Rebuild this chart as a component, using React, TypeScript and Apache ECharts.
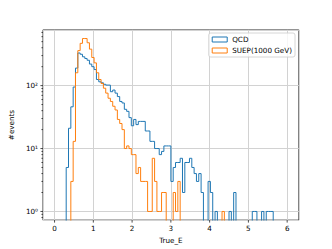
import React, { useEffect, useRef } from 'react';
import * as echarts from 'echarts';

// Histogram binning (100 bins from 0 to 6)
const BIN_START = 0;
const BIN_WIDTH = 0.06;

// Counts per bin
const qcdCounts: number[] = [
  0, 0, 0, 0, 0, 5, 21, 46, 95, 190,
  330, 315, 287, 270, 253, 220, 200, 180, 125, 115,
  111, 105, 102, 102, 80, 85, 76, 67, 56, 53,
  42, 39, 31, 23, 29, 24, 27, 27, 27, 19,
  19, 13, 13, 10, 10, 8, 9, 11, 11, 11,
  3, 5, 6, 6, 7, 2, 6, 6, 7, 5,
  4, 3, 4, 2, 0, 0, 3, 2, 0, 1,
  0, 0, 0, 0, 0, 1, 0, 2, 0, 0,
  0, 0, 0, 0, 0, 1, 1, 0, 0, 1,
  0, 1, 1, 1, 0, 0, 0, 0, 0, 0,
];

const suepCounts: number[] = [
  0, 0, 0, 0, 0, 0, 0, 3, 13, 160,
  360, 470, 560, 560, 480, 380, 280, 230, 160, 125,
  108, 91, 76, 63, 56, 47, 41, 29, 25, 20,
  10, 11, 10, 8, 8, 4, 5, 3, 3, 3,
  1, 1, 7, 3, 1, 1, 2, 2, 0, 0,
  0, 2, 1, 3, 0, 0, 0, 0, 0, 0,
  0, 0, 0, 0, 0, 0, 0, 0, 0, 0,
  0, 0, 1, 0, 0, 0, 0, 0, 0, 0,
  0, 0, 0, 0, 0, 0, 0, 0, 0, 0,
  0, 0, 0, 0, 0, 0, 0, 0, 0, 0,
];

const seriesNames = ['QCD', 'SUEP(1000 GeV)'];
const seriesColors = ['#1f77b4', '#ff7f0e'];

const xTickValues = [0, 1, 2, 3, 4, 5, 6];
const yMajorTicks = [1, 10, 100];
const yMinorTicks = [
  0.8, 0.9,
  2, 3, 4, 5, 6, 7, 8, 9,
  20, 30, 40, 50, 60, 70, 80, 90,
  200, 300, 400, 500, 600, 700,
];

const xAxisTitle = 'True_E';
const yAxisTitle = '#events';

const SUP: Record<string, string> = { '-': '⁻', '0': '⁰', '1': '¹', '2': '²', '3': '³', '4': '⁴', '5': '⁵', '6': '⁶', '7': '⁷', '8': '⁸', '9': '⁹' };

const FONT = 'DejaVu Sans';
const FS = 7.2;

export default function App() {
  const ref = useRef<HTMLDivElement>(null);

  useEffect(() => {
    if (!ref.current) return;
    const chart = echarts.init(ref.current, null, { renderer: 'svg' });

    const all = [...qcdCounts, ...suepCounts];
    const maxV = Math.max(...all);
    const minPos = Math.min(...all.filter((v) => v > 0));
    const lo = Math.log10(minPos);
    const hi = Math.log10(maxV);
    const span = hi - lo;
    const yMin = Math.pow(10, lo - 0.05 * span);
    const yMax = Math.pow(10, hi + 0.05 * span);
    const nBins = qcdCounts.length;
    const xLo = BIN_START;
    const xHi = BIN_START + nBins * BIN_WIDTH;
    const xMin = xLo - 0.05 * (xHi - xLo);
    const xMax = xHi + 0.05 * (xHi - xLo);
    const floor = yMin / 100;

    const stepData = (counts: number[]) => {
      const pts: number[][] = counts.map((v, i) => [BIN_START + i * BIN_WIDTH, v > 0 ? v : floor]);
      pts.push([xHi, floor]);
      return pts;
    };

    const lineSeries = [qcdCounts, suepCounts].map((counts, i) => ({
      type: 'line',
      name: seriesNames[i],
      data: stepData(counts),
      step: 'end',
      showSymbol: false,
      symbol: 'none',
      clip: true,
      lineStyle: { width: 1, color: seriesColors[i] },
      itemStyle: { color: seriesColors[i] },
      z: 3 + i,
    }));

    const tickStyle = { stroke: '#000', lineWidth: 0.7 };

    const xTickSeries = {
      type: 'custom',
      coordinateSystem: 'cartesian2d',
      silent: true,
      clip: false,
      z: 10,
      data: xTickValues.map((v) => [v, 1]),
      renderItem: (params: any, api: any) => {
        const cs = params.coordSys;
        const x = api.coord([api.value(0), 1])[0];
        const yb = cs.y + cs.height;
        return { type: 'line', shape: { x1: x, y1: yb, x2: x, y2: yb + 2.5 }, style: tickStyle };
      },
    };

    const yTickSeries = (vals: number[], len: number) => ({
      type: 'custom',
      coordinateSystem: 'cartesian2d',
      silent: true,
      clip: false,
      z: 10,
      data: vals.map((v) => [0, v]),
      renderItem: (params: any, api: any) => {
        const cs = params.coordSys;
        const y = api.coord([0, api.value(1)])[1];
        return { type: 'line', shape: { x1: cs.x - len, y1: y, x2: cs.x, y2: y }, style: tickStyle };
      },
    });

    const gridLine = { show: true, lineStyle: { color: '#d2d2d2', width: 1 } };

    chart.setOption({
      animation: false,
      backgroundColor: '#ffffff',
      textStyle: { fontFamily: FONT },
      grid: {
        left: 41.5,
        top: 29.9,
        right: 33.2,
        bottom: 27.4,
        show: true,
        borderColor: '#000',
        borderWidth: 0.7,
        backgroundColor: 'transparent',
      },
      legend: {
        orient: 'vertical',
        right: 37,
        top: 33,
        padding: [2, 3, 2, 3],
        itemWidth: 15,
        itemHeight: 5,
        itemGap: 2,
        backgroundColor: 'rgba(255,255,255,0.8)',
        borderColor: '#cccccc',
        borderWidth: 0.8,
        borderRadius: 2,
        textStyle: { fontFamily: FONT, fontSize: FS, color: '#000', lineHeight: 9 },
        data: seriesNames.map((n, i) => ({
          name: n,
          icon: 'rect',
          itemStyle: { color: 'rgba(0,0,0,0)', borderColor: seriesColors[i], borderWidth: 1 },
        })),
      },
      xAxis: {
        type: 'value',
        min: xMin,
        max: xMax,
        name: xAxisTitle,
        nameLocation: 'middle',
        nameGap: 14.5,
        nameTextStyle: { fontFamily: FONT, fontSize: FS, color: '#000' },
        axisLine: { show: false },
        axisTick: { show: false },
        axisLabel: {
          margin: 5,
          fontFamily: FONT,
          fontSize: FS,
          color: '#000',
          formatter: (v: number) => (Math.abs(v - Math.round(v)) < 1e-9 ? String(Math.round(v)) : ''),
        },
        splitLine: gridLine,
      },
      yAxis: {
        type: 'log',
        logBase: 10,
        min: yMin,
        max: yMax,
        name: yAxisTitle,
        nameLocation: 'middle',
        nameGap: 21,
        nameTextStyle: { fontFamily: FONT, fontSize: FS, color: '#000' },
        axisLine: { show: false },
        axisTick: { show: false },
        axisLabel: {
          margin: 5,
          fontFamily: FONT,
          fontSize: FS,
          color: '#000',
          formatter: (v: number) => {
            const e = Math.log10(v);
            if (Math.abs(e - Math.round(e)) > 1e-6) return '';
            const s = String(Math.round(e)).split('').map((c) => SUP[c] || c).join('');
            return '10' + s;
          },
        },
        splitLine: gridLine,
      },
      series: [
        ...lineSeries,
        xTickSeries,
        yTickSeries(yMajorTicks, 2.5),
        yTickSeries(yMinorTicks, 1.5),
      ],
    } as any);

    return () => chart.dispose();
  }, []);

  return <div ref={ref} style={{ position: 'absolute', left: 0, top: 0, width: 332, height: 249 }} />;
}
